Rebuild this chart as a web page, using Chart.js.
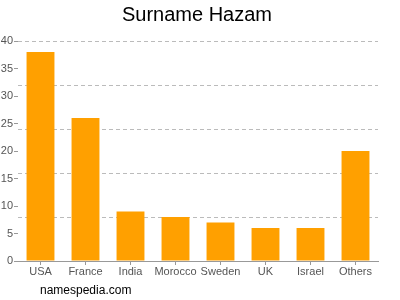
<!DOCTYPE html>
<html>
<head>
<meta charset="utf-8">
<script src="https://cdn.jsdelivr.net/npm/chart.js@4"></script>
<style>
  body { margin: 0; background: #fff; }
  #wrap { position: relative; width: 400px; height: 300px; }
  #title { position: absolute; left: 0; top: 3px; width: 394px; text-align: center; font: 20px/22px "Liberation Sans", Arial, sans-serif; color: #000; }
  #footer { position: absolute; left: 40px; top: 283px; font: 12px "Liberation Sans", Arial, sans-serif; color: #000; }
</style>
</head>
<body>
<div id="wrap">
  <canvas id="chart" width="400" height="300"></canvas>
  <div id="title">Surname Hazam</div>
  <div id="footer">namespedia.com</div>
</div>
<script>
  const countries = ['USA', 'France', 'India', 'Morocco', 'Sweden', 'UK', 'Israel', 'Others'];
  const counts = [38, 26, 9, 8, 7, 6, 6, 20];
  const tickStep = 5;
  const gridStep = 8;
  const yMax = 40;

  const ctx = document.getElementById('chart').getContext('2d');
  new Chart(ctx, {
    type: 'bar',
    data: {
      labels: countries,
      datasets: [{
        data: counts,
        backgroundColor: '#ffa000',
        categoryPercentage: 0.62,
        barPercentage: 1.0
      }]
    },
    options: {
      responsive: false,
      animation: false,
      layout: { padding: { left: 0, right: 22, top: 41, bottom: 25 } },
      plugins: {
        legend: { display: false },
        tooltip: { enabled: false },
        title: { display: false }
      },
      scales: {
        x: {
          border: { display: true, color: '#999' },
          grid: { drawOnChartArea: false, offset: false, tickLength: 4, color: '#999' },
          ticks: { color: '#555', font: { family: 'Liberation Sans', size: 11 }, padding: 0, maxRotation: 0, autoSkip: false },
          afterFit: s => { s.height = 14; }
        },
        y: {
          min: 0, max: yMax,
          border: { display: false },
          grid: { drawOnChartArea: false, tickLength: 4, color: '#999' },
          ticks: { stepSize: tickStep, color: '#555', font: { family: 'Liberation Sans', size: 11 }, padding: 1 },
          afterFit: s => { s.width = 18; }
        },
        y2: {
          position: 'left',
          min: 0, max: yMax,
          border: { display: false, dash: [4, 3] },
          grid: { color: '#bbb', drawTicks: false },
          ticks: { stepSize: gridStep, display: false },
          afterFit: s => { s.width = 0; }
        }
      }
    }
  });
</script>
</body>
</html>
